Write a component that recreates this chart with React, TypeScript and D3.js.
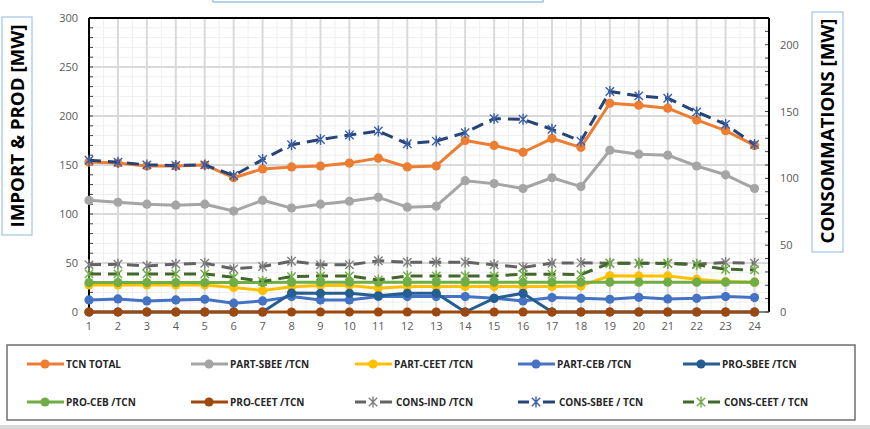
import * as d3 from "d3"

const hours = d3.range(1, 25)

const tcnTotal = [153, 152, 149, 149, 150, 137, 146, 148, 149, 152, 157, 148, 149, 175, 170, 163, 177, 168, 213, 211, 208, 196, 185, 170]
const partSbee = [114, 112, 110, 109, 110, 103, 114, 106, 110, 113, 117, 107, 108, 134, 131, 126, 137, 128, 165, 161, 160, 149, 140, 126]
const partCeet = [27.6, 27.6, 27.6, 27.6, 27.6, 25, 22, 25.8, 27, 27, 24.2, 25.9, 25.9, 25.9, 25.9, 26, 26, 26.6, 37, 36.8, 36.8, 33.5, 31, 30.4]
const partCeb = [12.3, 13.3, 11.3, 12.3, 13, 9, 11.3, 15.7, 12.3, 12.3, 15.7, 15.7, 15.7, 15.7, 14, 11.3, 14.7, 14, 13, 15, 13.3, 14, 15.7, 14.7]
const proSbee = [0, 0, 0, 0, 0, 0, 0, 19.3, 19.1, 19.1, 16.6, 19.1, 19.1, 0, 14, 19.1, 0, 0, 0, 0, 0, 0, 0, 0]
const proCeb = [30, 30, 30, 30, 30, 30, 30, 30.4, 30.4, 30.4, 30.4, 30.4, 30.4, 30.4, 30.4, 30.4, 30.4, 30.4, 30.4, 30.4, 30.4, 30.4, 30.4, 30.4]
const proCeet = [0, 0, 0, 0, 0, 0, 0, 0, 0, 0, 0, 0, 0, 0, 0, 0, 0, 0, 0, 0, 0, 0, 0, 0]
// secondary axis (consommations)
const consInd = [35.3, 35.8, 34.5, 35.8, 36.5, 32.3, 34, 38, 35.3, 35.3, 38.3, 37.3, 37.3, 37.3, 35.3, 33.3, 36.5, 36.8, 36.5, 36.5, 36.3, 35.8, 37, 36.5]
const consSbee = [113.6, 112.1, 110.1, 109.6, 110.1, 102.1, 114.1, 125.2, 129.1, 132.4, 135.4, 125.9, 127.9, 134.2, 144.7, 144.2, 136.7, 127.9, 165, 161.7, 160, 149.7, 140.4, 125.4]
const consCeet = [28.5, 28.5, 28.5, 28.5, 28.5, 26, 22.8, 26.5, 27, 27, 24, 27, 27, 27, 27, 28.3, 28.3, 28, 36.5, 36.5, 36.5, 35.3, 32, 31.5]

const leftTicks = [0, 50, 100, 150, 200, 250, 300]
const rightTicks = [0, 50, 100, 150, 200]

type Series = {
  name: string
  values: number[]
  axis: "L" | "R"
  color: string
  marker: "circle" | "star"
  markerColor: string
  dashed: boolean
}

const series: Series[] = [
  { name: "TCN TOTAL", values: tcnTotal, axis: "L", color: "#ED7D31", marker: "circle", markerColor: "#ED7D31", dashed: false },
  { name: "PART-SBEE /TCN", values: partSbee, axis: "L", color: "#A5A5A5", marker: "circle", markerColor: "#A5A5A5", dashed: false },
  { name: "PART-CEET /TCN", values: partCeet, axis: "L", color: "#FFC000", marker: "circle", markerColor: "#FFC000", dashed: false },
  { name: "PART-CEB /TCN", values: partCeb, axis: "L", color: "#4472C4", marker: "circle", markerColor: "#4472C4", dashed: false },
  { name: "PRO-SBEE /TCN", values: proSbee, axis: "L", color: "#255E91", marker: "circle", markerColor: "#255E91", dashed: false },
  { name: "PRO-CEB /TCN", values: proCeb, axis: "L", color: "#70AD47", marker: "circle", markerColor: "#70AD47", dashed: false },
  { name: "PRO-CEET /TCN", values: proCeet, axis: "L", color: "#9E480E", marker: "circle", markerColor: "#9E480E", dashed: false },
  { name: "CONS-IND /TCN", values: consInd, axis: "R", color: "#636363", marker: "star", markerColor: "#7F7F7F", dashed: true },
  { name: "CONS-SBEE / TCN", values: consSbee, axis: "R", color: "#264478", marker: "star", markerColor: "#3A5FA8", dashed: true },
  { name: "CONS-CEET / TCN", values: consCeet, axis: "R", color: "#43682B", marker: "star", markerColor: "#70AD47", dashed: true },
]

const W = 870
const H = 429
const plot = { left: 89, right: 769, top: 18, bottom: 312 }

const x = d3.scaleLinear().domain([1, 24.5]).range([plot.left, plot.right])
const yL = d3.scaleLinear().domain([0, 300]).range([plot.bottom, plot.top])
const yR = d3.scaleLinear().domain([0, 220]).range([plot.bottom, plot.top])

const font = "'Open Sans', 'Liberation Sans', Arial, sans-serif"

function starPath(cx: number, cy: number, s: number) {
  return `M${cx - s},${cy - s}L${cx + s},${cy + s}M${cx - s},${cy + s}L${cx + s},${cy - s}M${cx},${cy - s * 1.3}L${cx},${cy + s * 1.3}`
}

function Marker({ s, cx, cy }: { s: Series; cx: number; cy: number }) {
  if (s.marker === "circle") return <circle cx={cx} cy={cy} r={4.6} fill={s.markerColor} />
  return <path d={starPath(cx, cy, 4.2)} stroke={s.markerColor} strokeWidth={1.4} fill="none" />
}

export default function App() {
  const minorV = d3.range(1.5, 24.5, 1)
  const majorV = d3.range(2, 25, 1)
  const minorH = d3.range(10, 300, 10).filter((v) => v % 50 !== 0)
  const majorH = leftTicks.filter((v) => v > 0 && v < 300)

  const legendCols = [27, 191, 355, 518, 683]
  const legendRows = [364, 402]

  return (
    <svg width={W} height={H} style={{ position: "absolute", left: 0, top: 0, background: "#fff" }} fontFamily={font}>
      {/* grid */}
      {minorH.map((v) => (
        <line key={"mh" + v} x1={plot.left} x2={plot.right} y1={yL(v)} y2={yL(v)} stroke="#EFEFEF" strokeWidth={1} />
      ))}
      {minorV.map((v) => (
        <line key={"mv" + v} x1={x(v)} x2={x(v)} y1={plot.top} y2={plot.bottom} stroke="#EFEFEF" strokeWidth={1} />
      ))}
      {majorH.map((v) => (
        <line key={"Mh" + v} x1={plot.left} x2={plot.right} y1={yL(v)} y2={yL(v)} stroke="#D9D9D9" strokeWidth={2} />
      ))}
      {majorV.map((v) => (
        <line key={"Mv" + v} x1={x(v)} x2={x(v)} y1={plot.top} y2={plot.bottom} stroke="#D9D9D9" strokeWidth={2} />
      ))}

      {/* axis ticks */}
      {d3.range(0, 301, 10).map((v) => (
        <line key={"lt" + v} x1={plot.left} x2={plot.left + 4} y1={yL(v)} y2={yL(v)} stroke="#404040" strokeWidth={1} />
      ))}
      {d3.range(0, 221, 10).map((v) => (
        <line key={"rt" + v} x1={plot.right - 4} x2={plot.right} y1={yR(v)} y2={yR(v)} stroke="#404040" strokeWidth={1} />
      ))}

      {/* borders */}
      <line x1={plot.left} x2={plot.right} y1={plot.top} y2={plot.top} stroke="#000" strokeWidth={2} />
      <line x1={plot.left} x2={plot.left} y1={plot.top} y2={plot.bottom} stroke="#000" strokeWidth={2} />
      <line x1={plot.right} x2={plot.right} y1={plot.top} y2={plot.bottom} stroke="#000" strokeWidth={2} />
      <line x1={plot.left} x2={plot.right} y1={plot.bottom} y2={plot.bottom} stroke="#595959" strokeWidth={1.5} />

      {/* tick labels */}
      {leftTicks.map((v) => (
        <text key={"ll" + v} x={78} y={yL(v) + 4} textAnchor="end" fontSize={11} fill="#595959">
          {v}
        </text>
      ))}
      {rightTicks.map((v) => (
        <text key={"rl" + v} x={780} y={yR(v) + 4} textAnchor="start" fontSize={11} fill="#595959">
          {v}
        </text>
      ))}
      {hours.map((h) => (
        <text key={"xl" + h} x={x(h)} y={330} textAnchor="middle" fontSize={11} fill="#595959">
          {h}
        </text>
      ))}

      {/* series */}
      {series.map((s) => {
        const y = s.axis === "L" ? yL : yR
        const line = d3
          .line<number>()
          .x((_, i) => x(hours[i]))
          .y((d) => y(d))
        return (
          <g key={s.name}>
            <path
              d={line(s.values) ?? ""}
              fill="none"
              stroke={s.color}
              strokeWidth={3}
              strokeDasharray={s.dashed ? "12,7" : undefined}
              strokeLinejoin="round"
            />
            {s.values.map((v, i) => (
              <Marker key={i} s={s} cx={x(hours[i])} cy={y(v)} />
            ))}
          </g>
        )
      })}

      {/* axis title boxes */}
      <rect x={213} y={-20} width={330} height={22} fill="none" stroke="#9DC3E6" strokeWidth={1.5} />
      <rect x={2} y={17} width={30} height={218} fill="#fff" stroke="#9DC3E6" strokeWidth={1.2} />
      <text
        transform="translate(24,126) rotate(-90)"
        textAnchor="middle"
        fontSize={17}
        fontWeight="bold"
        fill="#000"
        textLength={203}
        lengthAdjust="spacingAndGlyphs"
      >
        IMPORT &amp; PROD [MW]
      </text>
      <rect x={812} y={12} width={31} height={240} fill="#fff" stroke="#9DC3E6" strokeWidth={1.2} />
      <text
        transform="translate(834,131) rotate(-90)"
        textAnchor="middle"
        fontSize={17}
        fontWeight="bold"
        fill="#000"
        textLength={225}
        lengthAdjust="spacingAndGlyphs"
      >
        CONSOMMATIONS [MW]
      </text>

      {/* legend */}
      <rect x={7} y={345} width={848} height={75} fill="#fff" stroke="#6F6F6F" strokeWidth={1.5} />
      {series.map((s, i) => {
        const lx = legendCols[i % 5]
        const ly = legendRows[Math.floor(i / 5)]
        return (
          <g key={"lg" + s.name}>
            {s.dashed ? (
              <>
                <line x1={lx} x2={lx + 11} y1={ly} y2={ly} stroke={s.color} strokeWidth={3} />
                <line x1={lx + 25} x2={lx + 37} y1={ly} y2={ly} stroke={s.color} strokeWidth={3} />
              </>
            ) : (
              <line x1={lx} x2={lx + 37} y1={ly} y2={ly} stroke={s.color} strokeWidth={3} />
            )}
            <Marker s={s} cx={lx + 18} cy={ly} />
            <text x={lx + (s.dashed ? 41 : 39)} y={ly + 4} fontSize={10} fontWeight="bold" fill="#262626">
              {s.name}
            </text>
          </g>
        )
      })}

      {/* bottom band */}
      <rect x={0} y={425} width={W} height={4} fill="#D9D9D9" />
    </svg>
  )
}
